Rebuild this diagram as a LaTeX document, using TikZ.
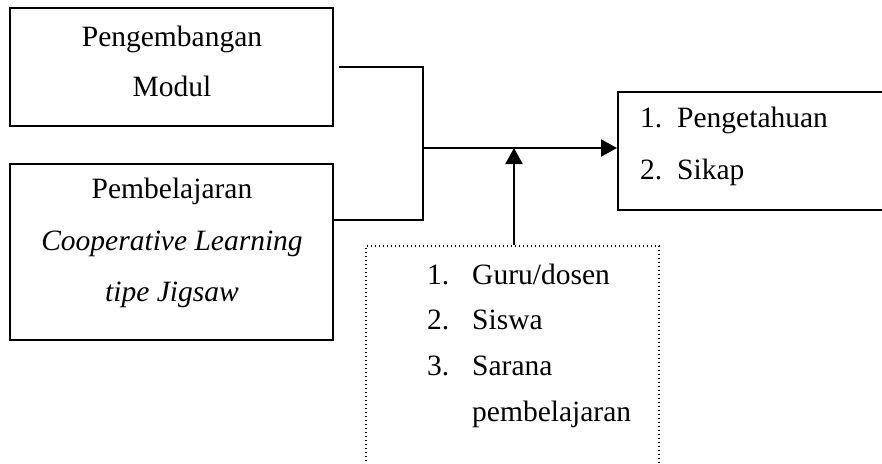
\documentclass[tikz,border=0pt]{standalone}
\usepackage{fontspec}
\setmainfont{Liberation Serif}
\usetikzlibrary{arrows.meta}
\begin{document}
\begin{tikzpicture}[x=1pt,y=-1pt,
  box/.style={draw,line width=2pt,rectangle,inner sep=0pt},
  dotbox/.style={draw,line width=1.4pt,dash pattern=on 1.4pt off 2.6pt,rectangle,inner sep=0pt},
  conn/.style={line width=2pt},
  arr/.style={line width=2pt,-{Triangle[length=16pt,width=17pt]}},
  txt/.style={font=\fontsize{29.5}{35}\selectfont,inner sep=0pt,anchor=base},
  ltxt/.style={font=\fontsize{29.5}{35}\selectfont,inner sep=0pt,anchor=base west}]
\useasboundingbox (0,0) rectangle (882,463);
\clip (0,0) rectangle (882,463);
% boxes
\node[box,minimum width=323pt,minimum height=118pt] (b1) at (171.5,67) {};
\node[box,minimum width=323pt,minimum height=176pt] (b2) at (171.5,252) {};
\node[box,minimum width=300pt,minimum height=118pt] (out) at (768,151) {};
\node[dotbox,minimum width=293pt,minimum height=260pt] (fac) at (512.5,376) {};
% texts
\node[txt] (t1) at (172,46) {Pengembangan};
\node[txt] (t2) at (172,96) {Modul};
\node[txt] (t3) at (172,198) {Pembelajaran};
\node[txt] (t4) at (172,250) {\itshape Cooperative Learning};
\node[txt] (t5) at (172,301) {\itshape tipe Jigsaw};
\node[ltxt] (o1n) at (640,127) {1.};
\node[ltxt] (o1) at (677,127) {Pengetahuan};
\node[ltxt] (o2n) at (640,179) {2.};
\node[ltxt] (o2) at (677,179) {Sikap};
\node[ltxt] (f1n) at (427,284) {1.};
\node[ltxt] (f1) at (472,284) {Guru/dosen};
\node[ltxt] (f2n) at (427,329) {2.};
\node[ltxt] (f2) at (472,329) {Siswa};
\node[ltxt] (f3n) at (427,375) {3.};
\node[ltxt] (f3) at (472,375) {Sarana};
\node[ltxt] (f4) at (472,421) {pembelajaran};
% connectors
\coordinate (j) at (423,148);
\coordinate (up) at (514,148);
\draw[conn] ([xshift=5pt]b1.east) -| (j);
\draw[conn] ([yshift=32pt]b2.east) -| (j);
\draw[arr] (j) -- (j -| out.west);
\draw[arr] (fac.north -| up) -- (up);
\end{tikzpicture}
\end{document}
